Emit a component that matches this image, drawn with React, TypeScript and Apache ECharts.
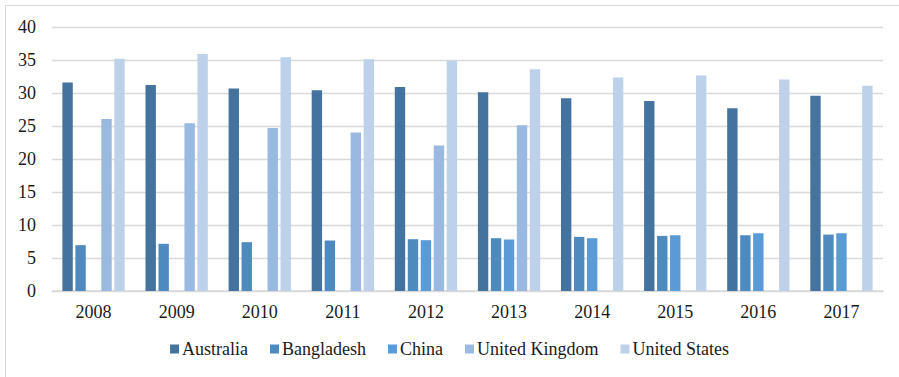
import React, { useEffect, useRef } from "react";
import * as echarts from "echarts";

// Years along the x axis
const years = ["2008", "2009", "2010", "2011", "2012", "2013", "2014", "2015", "2016", "2017"];

// Values per country (null = no value reported for that year)
const australia = [31.6, 31.2, 30.7, 30.4, 30.9, 30.1, 29.2, 28.8, 27.7, 29.6];
const bangladesh = [6.95, 7.15, 7.4, 7.65, 7.85, 8.0, 8.2, 8.35, 8.45, 8.55];
const china = [null, null, null, null, 7.7, 7.8, 8.0, 8.45, 8.75, 8.75];
const unitedKingdom = [26.05, 25.4, 24.7, 24.0, 22.05, 25.1, null, null, null, null];
const unitedStates = [35.2, 35.9, 35.4, 35.1, 34.9, 33.6, 32.35, 32.65, 32.05, 31.1];

const seriesNames = ["Australia", "Bangladesh", "China", "United Kingdom", "United States"];
const seriesValues = [australia, bangladesh, china, unitedKingdom, unitedStates];
const seriesColors = ["#44739f", "#4f8abf", "#5b9bd5", "#9ab9e0", "#bdd1ea"];

const FONT = "Liberation Serif";

export default function App() {
  const ref = useRef<HTMLDivElement>(null);

  useEffect(() => {
    if (!ref.current) return;
    const chart = echarts.init(ref.current, undefined, { renderer: "svg" });
    chart.setOption({
      animation: false,
      backgroundColor: "#ffffff",
      textStyle: { fontFamily: FONT },
      grid: { left: 52, right: 16, top: 27, bottom: 86, containLabel: false },
      legend: {
        bottom: 14,
        left: "center",
        itemWidth: 9,
        itemHeight: 9,
        itemGap: 22,
        icon: "rect",
        textStyle: { fontFamily: FONT, fontSize: 18, color: "#1a1a1a", padding: [0, 0, 0, -2] },
        data: seriesNames,
      },
      xAxis: {
        type: "category",
        data: years,
        axisLine: { show: true, lineStyle: { color: "#d9d9d9", width: 1.5 } },
        axisTick: { show: false },
        axisLabel: { fontFamily: FONT, fontSize: 18, color: "#1a1a1a", margin: 12 },
      },
      yAxis: {
        type: "value",
        min: 0,
        max: 40,
        interval: 5,
        axisLine: { show: false },
        axisTick: { show: false },
        splitLine: { lineStyle: { color: "#d9d9d9", width: 1.3 } },
        axisLabel: { fontFamily: FONT, fontSize: 18, color: "#1a1a1a", margin: 16 },
      },
      graphic: [
        {
          type: "polyline",
          shape: { points: [[5.5, 377], [5.5, 5.5], [899, 5.5]] },
          style: { stroke: "#d9d9d9", lineWidth: 1, fill: null },
          silent: true,
        },
      ],
      series: seriesNames.map((name, i) => ({
        name,
        type: "bar",
        data: seriesValues[i],
        barGap: "25%",
        barCategoryGap: "25%",
        itemStyle: { color: seriesColors[i] },
      })),
    });
    return () => chart.dispose();
  }, []);

  return (
    <div
      ref={ref}
      style={{ position: "fixed", left: 0, top: 0, width: 899, height: 377 }}
    />
  );
}
